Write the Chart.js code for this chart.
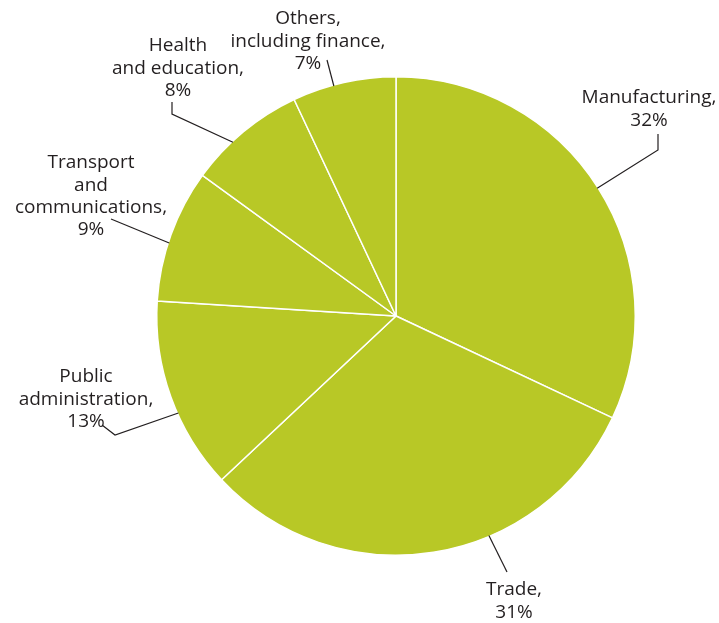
<!DOCTYPE html>
<html>
<head>
<meta charset="utf-8">
<script src="https://cdn.jsdelivr.net/npm/chart.js@4.4.0/dist/chart.umd.min.js"></script>
<style>
  html, body { margin: 0; padding: 0; background: #fff; }
  #wrap { width: 719px; height: 623px; }
</style>
</head>
<body>
<div id="wrap"><canvas id="pie" width="719" height="623"></canvas></div>
<script>
// --- Data ---
const categories = ['Manufacturing', 'Trade', 'Public administration', 'Transport and communications', 'Health and education', 'Others, including finance'];
const shares = [32, 31, 13, 9, 8, 7];
const labelLines = [
    ['Manufacturing,', '32%'],
    ['Trade,', '31%'],
    ['Public', 'administration,', '13%'],
    ['Transport', 'and', 'communications,', '9%'],
    ['Health', 'and education,', '8%'],
    ['Others,', 'including finance,', '7%']
];

// --- Label layout (where each callout sits, leader elbows) ---
const LABEL_LAYOUT = [
    { frac: 0.5,   text: [649, 98],  elbow: [[658, 150], [658, 134]] },
    { frac: 0.375, text: [514, 590], elbow: [[507, 572]] },
    { frac: 0.41,  text: [86, 377],  elbow: [[115, 435], [102, 425]] },
    { frac: 0.44,  text: [91, 163],  elbow: [[111, 219]] },
    { frac: 0.375, text: [178, 46],  elbow: [[172, 114], [172, 102]] },
    { frac: 0.40,  text: [308, 19],  elbow: [[327, 60]] }
];
const LINE_H = 22.3;
const TEXT_COLOR = '#231f20';

const calloutPlugin = {
    id: 'callouts',
    afterDraw(chart) {
        const ctx = chart.ctx;
        const arcs = chart.getDatasetMeta(0).data;
        ctx.save();
        ctx.strokeStyle = TEXT_COLOR;
        ctx.lineWidth = 1.2;
        arcs.forEach((arc, i) => {
            const cfg = LABEL_LAYOUT[i];
            const a = arc.startAngle + (arc.endAngle - arc.startAngle) * cfg.frac;
            const r = arc.outerRadius - 1;
            ctx.beginPath();
            ctx.moveTo(arc.x + Math.cos(a) * r, arc.y + Math.sin(a) * r);
            cfg.elbow.forEach(p => ctx.lineTo(p[0], p[1]));
            ctx.stroke();
        });
        ctx.fillStyle = TEXT_COLOR;
        ctx.font = '19px "Open Sans", sans-serif';
        ctx.textAlign = 'center';
        ctx.textBaseline = 'middle';
        labelLines.forEach((lines, i) => {
            const [x, y] = LABEL_LAYOUT[i].text;
            lines.forEach((t, k) => ctx.fillText(t, x, y + k * LINE_H));
        });
        ctx.restore();
    }
};

new Chart(document.getElementById('pie'), {
    type: 'pie',
    data: {
        labels: categories,
        datasets: [{
            data: shares,
            backgroundColor: '#b8c826',
            borderColor: '#ffffff',
            borderWidth: 1.5
        }]
    },
    options: {
        responsive: false,
        animation: false,
        layout: { padding: { top: 76, bottom: 67, left: 156, right: 83 } },
        plugins: { legend: { display: false }, tooltip: { enabled: false } }
    },
    plugins: [calloutPlugin]
});
</script>
</body>
</html>
